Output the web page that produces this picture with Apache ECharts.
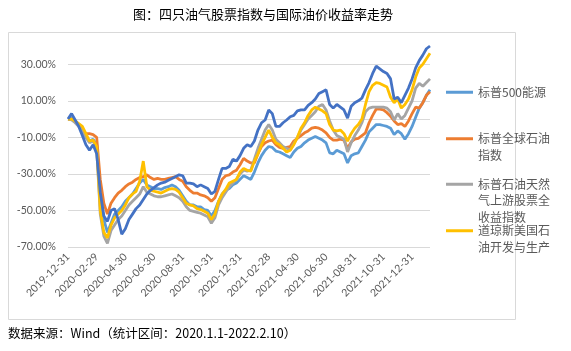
<!DOCTYPE html>
<html>
<head>
<meta charset="utf-8">
<script src="https://cdn.jsdelivr.net/npm/echarts@6/dist/echarts.min.js"></script>
<style>
  html, body { margin: 0; padding: 0; background: #fff; }
  #chart { width: 571px; height: 351px; }
</style>
</head>
<body>
<div id="chart"></div>
<script>
// 横轴每两个月一个刻度标签，每个刻度间隔 8 个数据点
const tickLabels = ['2019-12-31','2020-02-29','2020-04-30','2020-06-30','2020-08-31','2020-10-31','2020-12-31',
  '2021-02-28','2021-04-30','2021-06-30','2021-08-31','2021-10-31','2021-12-31']
const pointsPerLabel = 8

const seriesNames = ['标普500能源', '标普全球石油指数', '标普石油天然气上游股票全收益指数', '道琼斯美国石油开发与生产', '国际油价']

// 收益率（%），自 2020.1.1 起
const sp500Energy = [0, 0.5, -1.5, -3, -6, -10, -12, -11, -14, -40,
  -55, -62, -57, -52, -50, -48, -45, -43, -41, -38,
  -35, -33, -36, -37, -38, -38, -38.5, -37.5, -37, -36,
  -37, -39, -42, -45, -47, -47, -48, -48, -49.5, -50,
  -53, -50, -45, -41, -39, -38, -36, -35, -33, -31,
  -32, -33, -29, -24, -20, -17, -15, -15.5, -17.5, -18,
  -19, -20, -21, -18, -16, -15, -13, -11.5, -10.5, -9.5,
  -10.5, -11.5, -13, -18.5, -19, -17, -18, -19, -24, -20,
  -19, -18.5, -15, -11.5, -7, -5, -3, -3, -3.5, -4,
  -5, -8.5, -6.5, -8, -11, -8, -4, 1, 6, 9,
  13, 16]
const spGlobalOil = [0, 0, -1.5, -3, -6, -8, -8, -8.5, -10, -33,
  -46, -52, -46, -43, -40.5, -39, -37, -35.5, -34.5, -33,
  -32, -31.5, -30.5, -32, -33, -32.5, -33, -33, -32.5, -32,
  -31.5, -33, -34, -37, -39, -40.5, -40.5, -41.5, -42, -43,
  -45, -43, -38, -33, -31, -30.5, -29, -28, -25, -21.5,
  -23, -24, -24, -19, -15, -13, -12, -11.5, -14, -15.5,
  -16, -15.5, -15, -12, -10.5, -9, -7.5, -6.5, -5, -4.5,
  -5, -6, -7.5, -10, -11.5, -11.5, -11, -11.5, -16, -12.5,
  -11, -10.5, -9, -7.5, -2, 2, 5.5, 5.5, 5, 3.5,
  1.5, -1, -3, -2.5, -4, -1, 3, 6.5, 6, 9,
  13, 15]
const spOilGasEP = [0, -0.5, -2, -4, -6, -10, -13, -12, -16, -52,
  -64, -68, -61, -58, -55, -53, -50, -47, -45, -43,
  -41, -37, -40, -41, -42, -42.5, -42.5, -42, -41.5, -41,
  -42, -43, -45, -48, -50, -50.5, -51, -51.5, -52.5, -53.5,
  -57, -54, -47, -43, -40, -37, -35, -33, -30, -28,
  -28.5, -28, -22, -16, -11, -6, -3, -6, -11, -13,
  -15, -16, -17, -13.5, -10, -6, -3, 0, 2, 4,
  7, 8, 5, -1, -6, -9, -10, -11, -18, -13,
  -9, -6, -2, 4, 6, 6.5, 6.5, 6.5, 6.5, 6,
  4, -0.5, 3, 0, 2, 6, 10, 17, 19.5, 18,
  20, 22]
const djUSOilEP = [0, 0, -1, -2.5, -4, -8, -12, -11.5, -15, -50,
  -62, -65, -58, -54, -52, -50, -47, -43, -41, -39.5,
  -34, -23, -37, -39, -39.5, -40, -40.5, -39.5, -38.5, -38,
  -38.5, -40, -43, -46, -47, -47.5, -49, -49.5, -50.5, -51.5,
  -55, -52, -45, -41, -38.5, -35, -34, -33, -29, -27,
  -28, -28.5, -23, -19, -14, -10, -6, -10, -13, -14,
  -16, -18, -17, -14, -10, -5, -2, 2, 5, 6.5,
  5.5, 4.5, 3, -3, -6, -6.5, -6, -8, -12, -8,
  -5, -3, 0, 8, 15, 18.5, 20, 19.5, 18.5, 17.5,
  12, 9, 11, 6, 8, 11, 16, 23, 28, 30,
  33, 36]
const oilPrice = [0, 3, -0.5, -4, -9, -14, -17, -14, -19, -40,
  -53, -56, -50, -49, -55, -63, -60, -55, -52, -49,
  -47, -44, -41, -39, -37.5, -36, -35, -34.5, -33.5, -32.5,
  -31.5, -30.5, -31, -35, -35, -35.5, -37, -36, -37, -38,
  -41, -39.5, -33, -27, -27, -26, -22, -23, -20, -16,
  -14, -15, -12, -6, -2, -0.5, 5, 3, -4, -4,
  -2, -0.5, 1.3, 2, 4.5, 5, 5, 7.5, 9, 11,
  14, 15, 16, 8, 6, 8, 6.5, 5, 0.5, 7,
  9, 10, 11.5, 16, 20, 25, 29, 27.5, 26, 25,
  22, 11, 12, 9, 13, 17, 22, 28, 32, 35,
  38.5, 40]

const seriesData = [sp500Energy, spGlobalOil, spOilGasEP, djUSOilEP, oilPrice]
const colorList = ['#5B9BD5', '#ED7D31', '#A5A5A5', '#FFC000', '#4472C4']
// 图例文字手动换行；前面补空行让图标对齐首行
const legendText = ['标普500能源', '\n标普全球石油\n指数', '\n\n标普石油天然\n气上游股票全\n收益指数', '\n道琼斯美国石\n油开发与生产']
const legendTop = [84, 114, 143, 206]

const categories = sp500Energy.map((v, i) => String(i))
const cnFont = '"Noto Sans CJK SC", sans-serif'
const numFont = 'Lato, "Noto Sans CJK SC", sans-serif'

let myChart = echarts.init(document.getElementById('chart'), null, { renderer: 'canvas' })

let option = {
  animation: false,
  color: colorList,
  title: [
    {
      text: '图：四只油气股票指数与国际油价收益率走势',
      left: 133, top: 8, padding: 0,
      textStyle: { fontSize: 13, fontWeight: 'normal', color: '#000', fontFamily: cnFont }
    },
    {
      text: '数据来源：Wind（统计区间：2020.1.1-2022.2.10）',
      left: 8, top: 327, padding: 0,
      textStyle: { fontSize: 12.5, fontWeight: 'normal', color: '#000', fontFamily: cnFont }
    }
  ],
  graphic: [{
    type: 'rect',
    shape: { x: 8.5, y: 32.5, width: 507, height: 287 },
    style: { fill: 'none', stroke: '#d9d9d9', lineWidth: 1 },
    silent: true
  }],
  legend: legendText.map((txt, i) => ({
    data: [seriesNames[i]],
    left: 446,
    top: legendTop[i],
    padding: 0,
    icon: 'rect',
    itemWidth: 27,
    itemHeight: 3,
    formatter: () => txt,
    textStyle: { fontSize: 12, color: '#595959', lineHeight: 16.5, fontFamily: cnFont }
  })),
  grid: {
    left: 68, right: 141, top: 46, bottom: 104,
    containLabel: false
  },
  xAxis: {
    type: 'category',
    boundaryGap: false,
    data: categories,
    axisLine: { show: false },
    axisTick: { show: false },
    splitLine: { show: false },
    axisLabel: {
      interval: pointsPerLabel - 1,
      rotate: 45,
      margin: 8,
      fontSize: 10.5,
      color: '#595959',
      fontFamily: numFont,
      formatter: (val, idx) => tickLabels[idx / pointsPerLabel] || ''
    }
  },
  yAxis: {
    type: 'value',
    min: -70,
    max: 40,
    interval: 10,
    axisLine: { show: false },
    axisTick: { show: false },
    axisLabel: {
      margin: 12,
      fontSize: 10.5,
      color: '#595959',
      fontFamily: numFont,
      formatter: (v) => (Math.round(v) % 20 !== 0 ? v.toFixed(2) + '%' : '')
    },
    splitLine: {
      show: true,
      lineStyle: {
        width: 1,
        // -70 ... 40，只保留 -70/-50/-30/-10/0/10/30
        color: ['#d9d9d9', 'transparent', '#d9d9d9', 'transparent', '#d9d9d9', 'transparent',
          '#d9d9d9', '#d9d9d9', '#d9d9d9', 'transparent', '#d9d9d9', 'transparent']
      }
    }
  },
  series: seriesData.map((d, i) => ({
    name: seriesNames[i],
    type: 'line',
    data: d,
    showSymbol: false,
    smooth: false,
    lineStyle: { width: 2.8, color: colorList[i] },
    itemStyle: { color: colorList[i] },
    z: 2 + i
  }))
}

myChart.setOption(option, true)
</script>
</body>
</html>
